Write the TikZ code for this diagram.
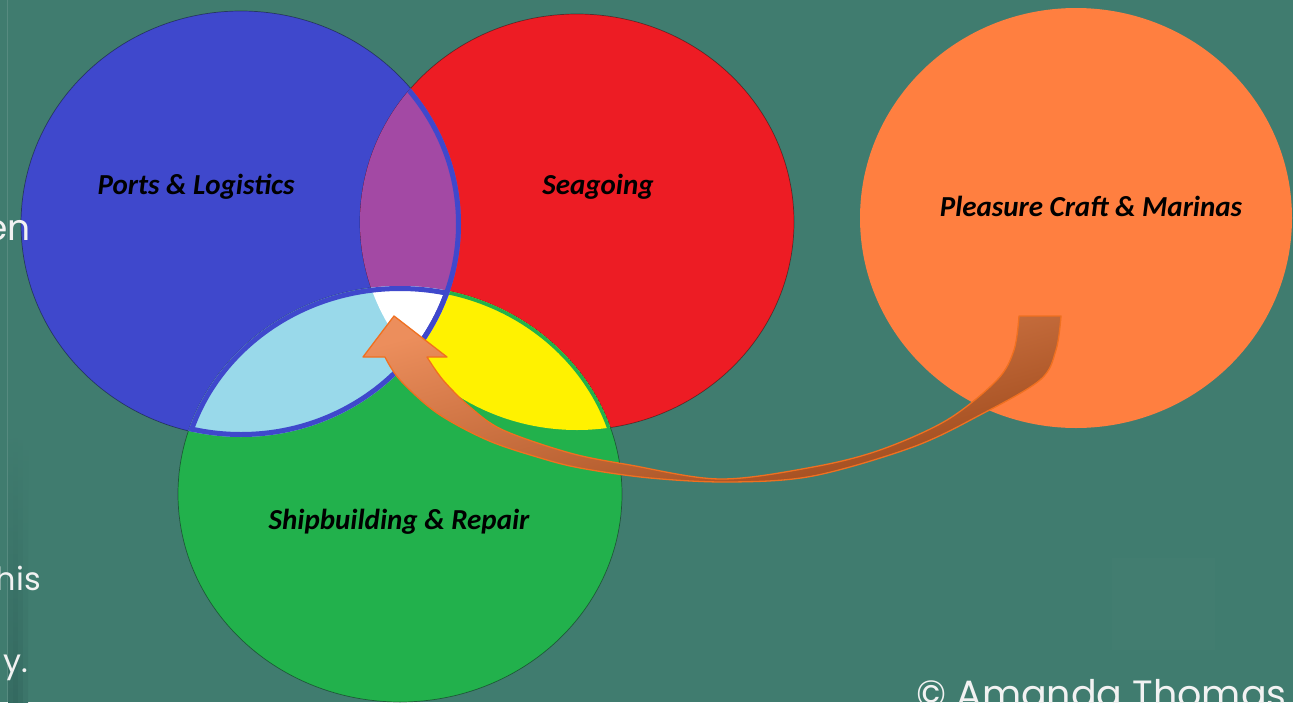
\documentclass[tikz,border=0pt]{standalone}
\usepackage{fontspec}
\setmainfont{Carlito}
\newfontfamily\gothic{Poppins}
\definecolor{bg}{RGB}{64,124,111}
\definecolor{bgdark}{RGB}{42,90,84}
\definecolor{cblue}{RGB}{63,72,204}
\definecolor{cred}{RGB}{237,28,36}
\definecolor{cgreen}{RGB}{34,177,76}
\definecolor{corange}{RGB}{255,127,64}
\definecolor{cpurple}{RGB}{163,73,164}
\definecolor{clight}{RGB}{153,217,234}
\definecolor{cyellow}{RGB}{255,242,0}
\definecolor{arrowlight}{RGB}{236,142,92}
\definecolor{arrowdark}{RGB}{156,72,26}
\definecolor{arrowline}{RGB}{240,112,32}
\definecolor{slidetext}{RGB}{242,242,242}
\tikzset{
  lbl/.style={font=\fontsize{29}{29}\selectfont\bfseries\itshape, text=black, inner sep=0pt, anchor=base},
  slide/.style={font=\gothic\fontsize{32}{32}\selectfont, text=slidetext, inner sep=0pt},
  rim/.style={draw=black, draw opacity=0.4, line width=0.7pt},
}
\def\bluec{(241,224) ellipse [x radius=220, y radius=213]}
\def\redc{(577,222) ellipse [x radius=217, y radius=208]}
\def\greenc{(400,494) ellipse [x radius=222, y radius=208]}
\def\orangec{(1076,218) ellipse [x radius=216, y radius=210]}
\begin{document}
\begin{tikzpicture}[x=1pt,y=-1pt]
\useasboundingbox (0,0) rectangle (1293,702);
\clip (0,0) rectangle (1293,702);
\fill[bg] (0,0) rectangle (1293,702);
% left edge shadow (soft strips)
\shade[top color=bg, bottom color=bg!55!bgdark] (8,430) rectangle (13,702);
\shade[top color=bg, bottom color=bg!45!bgdark] (13,430) rectangle (18,702);
\shade[top color=bg, bottom color=bg!60!bgdark] (18,430) rectangle (23,702);
\shade[top color=bg, bottom color=bg!80!bgdark] (23,430) rectangle (28,702);
\draw[white, opacity=0.12, line width=0.6pt] (7.5,0) -- (7.5,702);
% faint watermark
\fill[white, opacity=0.012] (1112,558) rectangle (1215,650);
% circles
\path[fill=cblue, rim] \bluec;
\path[fill=cred, rim] \redc;
\path[fill=cgreen, rim] \greenc;
\fill[corange] \orangec;
% red & green lens (yellow) with green rim
\begin{scope}
  \clip \redc; \clip \greenc;
  \fill[cyellow] \greenc;
  \draw[cgreen, line width=7pt] \greenc;
\end{scope}
% blue & red lens (purple)
\begin{scope}
  \clip \bluec; \clip \redc;
  \fill[cpurple] \redc;
\end{scope}
% blue & green lens (light blue)
\begin{scope}
  \clip \bluec; \clip \greenc;
  \fill[clight] \greenc;
\end{scope}
% centre (white)
\begin{scope}
  \clip \bluec; \clip \greenc; \clip \redc;
  \fill[white] \greenc;
\end{scope}
% blue rims
\begin{scope}
  \clip \bluec; \clip \redc;
  \draw[cblue, line width=10pt] \bluec;
\end{scope}
\begin{scope}
  \clip \bluec; \clip \greenc;
  \draw[cblue, line width=10pt] \bluec;
  \draw[cblue, line width=10pt] \greenc;
\end{scope}
% slide text fragments at left edge
\node[slide, font=\gothic\fontsize{36}{36}\selectfont, anchor=base east] (t1) at (31,240) {en};
\node[slide, anchor=base east] (t2) at (41,590) {his};
\node[slide, anchor=base east] (t3) at (28,672) {y.};
% curved arrow
\path[draw=arrowline, line width=1.3pt, line join=round, top color=arrowlight, bottom color=arrowdark, shading angle=15]
  (394,316) -- (447,357) -- (427,357)
  -- plot[smooth, tension=0.55] coordinates {(427,357) (443,380) (470,407) (503,430) (570,453) (630,465) (720,479) (813,467) (880,450) (947,420) (997,380) (1014,350) (1019,316)}
  -- (1061,316)
  -- plot[smooth, tension=0.55] coordinates {(1061,316) (1056,350) (1040,380) (980,415) (913,447) (813,476) (730,482) (650,478) (580,468) (537,457) (487,440) (437,413) (400,380) (385,357)}
  -- (363,357) -- cycle;
% labels
\node[lbl] (ports) at (196,194) {Ports \& Logistics};
\node[lbl] (sea) at (598,194) {Seagoing};
\node[lbl] (pleasure) at (1091,216) {Pleasure Craft \& Marinas};
\node[lbl] (ship) at (399,529) {Shipbuilding \& Repair};
% copyright
\node[slide, font=\gothic\fontsize{38}{38}\selectfont, anchor=base west] (copy) at (916,707) {\textcopyright{} Amanda Thomas};
\end{tikzpicture}
\end{document}
